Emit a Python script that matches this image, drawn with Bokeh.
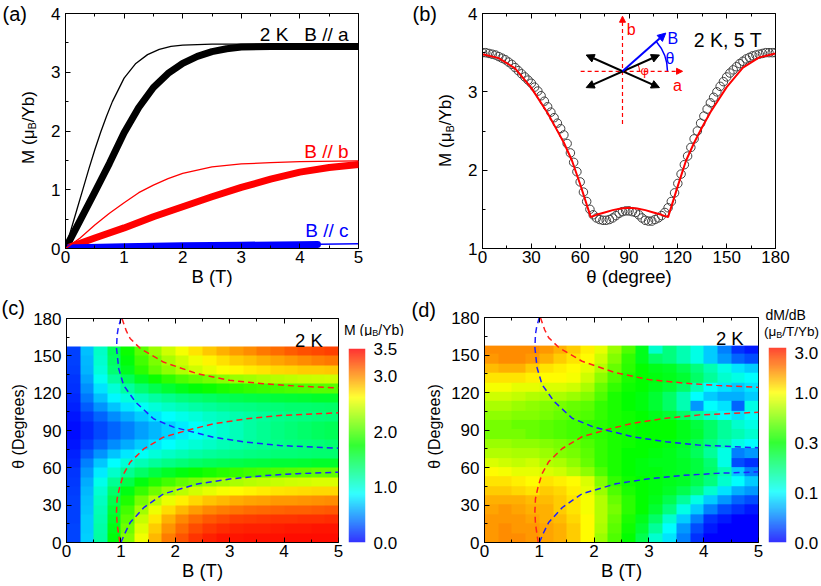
import numpy as np
from bokeh.plotting import figure
from bokeh.layouts import column, row
from bokeh.models import (Range1d, LinearAxis, FixedTicker, Arrow, NormalHead,
                          LinearColorMapper, NumeralTickFormatter)
from bokeh.core.properties import value
from bokeh.embed import file_html
from bokeh.resources import INLINE

FONT = "Liberation Sans"

# ---------------- (a) M vs B ----------------
a_thick_black_B = [0, 0.25, 0.5, 0.75, 1.0, 1.25, 1.5, 1.75, 2.0, 2.25, 2.5, 2.75, 3.0, 3.5, 4.0, 4.5, 5.0]
a_thick_black_M = [0, 0.48, 0.96, 1.45, 1.97, 2.40, 2.74, 2.98, 3.15, 3.27, 3.35, 3.40, 3.43, 3.44, 3.44, 3.44, 3.44]
a_thin_black_B = [0, 0.1, 0.2, 0.3, 0.4, 0.5, 0.6, 0.7, 0.8, 1.0, 1.2, 1.4, 1.6, 1.8, 2.0, 2.5, 3.0, 4.0, 5.0]
a_thin_black_M = [0, 0.34, 0.68, 1.02, 1.36, 1.68, 1.98, 2.25, 2.50, 2.90, 3.15, 3.30, 3.39, 3.44, 3.46, 3.48, 3.48, 3.48, 3.48]
a_thick_red_B = [0, 0.5, 1.0, 1.5, 2.0, 2.5, 3.0, 3.5, 4.0, 4.5, 5.0]
a_thick_red_M = [0, 0.18, 0.35, 0.54, 0.71, 0.88, 1.04, 1.18, 1.30, 1.38, 1.43]
a_thin_red_B = [0, 0.25, 0.5, 0.75, 1.0, 1.25, 1.5, 1.75, 2.0, 2.5, 3.0, 3.5, 4.0, 5.0]
a_thin_red_M = [0, 0.18, 0.40, 0.60, 0.78, 0.95, 1.08, 1.19, 1.28, 1.39, 1.44, 1.46, 1.48, 1.49]
a_thick_blue_B = [0, 1.0, 2.0, 3.0, 4.0, 4.3]
a_thick_blue_M = [0.01, 0.03, 0.045, 0.055, 0.065, 0.07]
a_thin_blue_B = [0, 1.0, 2.0, 3.0, 4.0, 5.0]
a_thin_blue_M = [0, 0.03, 0.05, 0.06, 0.07, 0.08]

# ---------------- (b) M vs theta at 2 K, 5 T ----------------
b_theta_data = list(range(0, 181, 2))
b_M_data = [3.50, 3.50, 3.49, 3.48, 3.47, 3.45, 3.43, 3.41, 3.38, 3.35,
            3.31, 3.27, 3.23, 3.19, 3.15, 3.11, 3.06, 3.01, 2.95, 2.88,
            2.81, 2.74, 2.67, 2.60, 2.53, 2.45, 2.34, 2.22, 2.10, 1.98,
            1.85, 1.72, 1.60, 1.50, 1.43, 1.39, 1.37, 1.36, 1.36, 1.37,
            1.39, 1.42, 1.45, 1.47, 1.48, 1.48, 1.47, 1.46, 1.43, 1.39,
            1.36, 1.35, 1.35, 1.37, 1.39, 1.42, 1.46, 1.52, 1.60, 1.71,
            1.83, 1.95, 2.07, 2.18, 2.29, 2.40, 2.50, 2.60, 2.69, 2.78,
            2.86, 2.93, 3.00, 3.07, 3.13, 3.19, 3.24, 3.28, 3.32, 3.36,
            3.39, 3.42, 3.44, 3.46, 3.47, 3.48, 3.49, 3.50, 3.50, 3.50,
            3.50]
b_theta_model = [0, 10, 20, 30, 40, 45, 50, 55, 60, 66.5, 70, 75, 80, 85, 90, 95, 100, 105, 110,
                 114, 120, 125, 130, 135, 140, 150, 160, 170, 180]
b_M_model = [3.48, 3.43, 3.30, 3.05, 2.73, 2.54, 2.35, 2.12, 1.82, 1.40, 1.43, 1.46, 1.49, 1.51, 1.52,
             1.51, 1.49, 1.46, 1.43, 1.40, 1.80, 2.12, 2.35, 2.55, 2.74, 3.06, 3.31, 3.44, 3.49]

# inset schematic (in panel-b data units)
inset_center = (86.0, 3.262)
inset_b_axis = ([86.0, 86.0], [2.59, 3.965])
inset_a_axis = ([60.3, 122.9], [3.262, 3.262])
inset_moment1 = ([63.7, 108.7], [3.47, 3.054])
inset_moment2 = ([63.7, 108.7], [3.054, 3.47])
inset_field = ([86.0, 112.6], [3.262, 3.75])

# ---------------- (c), (d) maps: cell centres ----------------
map_B = [0.125 + 0.25 * i for i in range(20)]
map_theta = [3.75 + 7.5 * i for i in range(21)]
M_map = [
    [0.24, 0.72, 1.20, 1.71, 2.19, 2.58, 2.87, 3.07, 3.21, 3.31, 3.38, 3.42, 3.43, 3.44, 3.44, 3.44, 3.45, 3.45, 3.45, 3.45],
    [0.24, 0.71, 1.18, 1.67, 2.13, 2.51, 2.79, 2.99, 3.13, 3.23, 3.30, 3.34, 3.37, 3.38, 3.39, 3.40, 3.41, 3.41, 3.42, 3.42],
    [0.23, 0.70, 1.16, 1.62, 2.06, 2.43, 2.70, 2.89, 3.03, 3.13, 3.19, 3.24, 3.27, 3.29, 3.30, 3.31, 3.32, 3.33, 3.33, 3.34],
    [0.23, 0.68, 1.13, 1.56, 1.97, 2.31, 2.56, 2.74, 2.87, 2.96, 3.03, 3.07, 3.10, 3.12, 3.14, 3.15, 3.16, 3.17, 3.18, 3.19],
    [0.22, 0.66, 1.09, 1.49, 1.85, 2.15, 2.38, 2.55, 2.67, 2.76, 2.83, 2.87, 2.91, 2.93, 2.95, 2.97, 2.98, 2.99, 3.00, 3.01],
    [0.21, 0.63, 1.03, 1.39, 1.69, 1.93, 2.12, 2.27, 2.38, 2.47, 2.54, 2.59, 2.63, 2.66, 2.69, 2.71, 2.73, 2.74, 2.75, 2.76],
    [0.20, 0.59, 0.95, 1.25, 1.50, 1.70, 1.86, 1.98, 2.08, 2.16, 2.23, 2.29, 2.33, 2.37, 2.40, 2.43, 2.45, 2.47, 2.49, 2.50],
    [0.18, 0.52, 0.82, 1.06, 1.25, 1.40, 1.52, 1.62, 1.70, 1.77, 1.83, 1.88, 1.92, 1.96, 1.99, 2.02, 2.04, 2.06, 2.08, 2.09],
    [0.15, 0.44, 0.69, 0.88, 1.02, 1.13, 1.22, 1.29, 1.35, 1.40, 1.44, 1.47, 1.50, 1.52, 1.54, 1.56, 1.57, 1.58, 1.60, 1.61],
    [0.11, 0.32, 0.51, 0.67, 0.80, 0.91, 1.00, 1.07, 1.13, 1.18, 1.22, 1.25, 1.28, 1.30, 1.32, 1.34, 1.35, 1.36, 1.37, 1.38],
    [0.07, 0.21, 0.35, 0.48, 0.60, 0.71, 0.80, 0.88, 0.96, 1.02, 1.08, 1.13, 1.17, 1.21, 1.25, 1.28, 1.31, 1.33, 1.35, 1.37],
    [0.05, 0.15, 0.25, 0.35, 0.45, 0.55, 0.64, 0.73, 0.82, 0.90, 0.98, 1.05, 1.12, 1.19, 1.25, 1.30, 1.35, 1.39, 1.43, 1.46],
    [0.05, 0.15, 0.25, 0.35, 0.45, 0.55, 0.64, 0.73, 0.82, 0.90, 0.98, 1.05, 1.12, 1.19, 1.25, 1.30, 1.35, 1.39, 1.43, 1.46],
    [0.07, 0.21, 0.35, 0.48, 0.60, 0.71, 0.80, 0.88, 0.95, 1.01, 1.07, 1.12, 1.16, 1.20, 1.23, 1.26, 1.29, 1.31, 1.33, 1.35],
    [0.11, 0.32, 0.51, 0.67, 0.80, 0.91, 1.00, 1.07, 1.13, 1.18, 1.22, 1.26, 1.29, 1.31, 1.33, 1.35, 1.37, 1.38, 1.39, 1.40],
    [0.14, 0.42, 0.66, 0.85, 0.99, 1.10, 1.19, 1.27, 1.33, 1.38, 1.42, 1.46, 1.49, 1.51, 1.53, 1.55, 1.57, 1.58, 1.60, 1.61],
    [0.17, 0.50, 0.79, 1.02, 1.21, 1.36, 1.48, 1.58, 1.66, 1.73, 1.79, 1.84, 1.88, 1.92, 1.95, 1.98, 2.00, 2.02, 2.04, 2.05],
    [0.19, 0.57, 0.92, 1.21, 1.45, 1.64, 1.79, 1.91, 2.01, 2.09, 2.16, 2.22, 2.27, 2.31, 2.34, 2.37, 2.40, 2.42, 2.44, 2.46],
    [0.21, 0.62, 1.01, 1.36, 1.65, 1.89, 2.08, 2.23, 2.36, 2.46, 2.54, 2.60, 2.65, 2.69, 2.72, 2.75, 2.77, 2.79, 2.80, 2.81],
    [0.22, 0.64, 1.05, 1.41, 1.72, 1.97, 2.17, 2.33, 2.46, 2.57, 2.66, 2.73, 2.79, 2.84, 2.89, 2.93, 2.97, 3.01, 3.05, 3.08],
    [0.22, 0.66, 1.08, 1.46, 1.79, 2.06, 2.28, 2.45, 2.59, 2.71, 2.81, 2.89, 2.96, 3.02, 3.08, 3.13, 3.18, 3.22, 3.25, 3.28],
]
dMdB_map = [
    [2.00, 2.13, 2.13, 2.00, 1.88, 1.75, 1.50, 1.00, 0.72, 0.51, 0.30, 0.24, 0.14, 0.09, 0.05, 0.02, 0.00, 0.00, 0.00, 0.00],
    [2.00, 2.13, 2.00, 2.00, 1.88, 1.75, 1.50, 1.00, 0.76, 0.55, 0.34, 0.26, 0.18, 0.10, 0.06, 0.03, 0.01, 0.00, 0.00, 0.00],
    [2.00, 2.00, 2.00, 1.88, 1.75, 1.63, 1.38, 1.00, 0.79, 0.58, 0.37, 0.28, 0.22, 0.14, 0.08, 0.05, 0.02, 0.01, 0.00, 0.00],
    [1.88, 2.00, 1.88, 1.75, 1.75, 1.50, 1.25, 0.97, 0.79, 0.62, 0.41, 0.30, 0.26, 0.20, 0.12, 0.08, 0.05, 0.03, 0.02, 0.01],
    [1.75, 1.75, 1.75, 1.63, 1.63, 1.50, 1.25, 0.97, 0.79, 0.58, 0.41, 0.30, 0.28, 0.24, 0.18, 0.12, 0.08, 0.06, 0.04, 0.03],
    [1.50, 1.50, 1.38, 1.25, 1.50, 1.38, 1.13, 0.93, 0.72, 0.51, 0.37, 0.30, 0.29, 0.27, 0.24, 0.20, 0.14, 0.09, 0.07, 0.06],
    [1.25, 1.25, 1.13, 1.00, 1.25, 1.13, 1.00, 0.90, 0.65, 0.44, 0.34, 0.30, 0.29, 0.28, 0.27, 0.24, 0.20, 0.14, 0.10, 0.08],
    [1.00, 0.97, 0.93, 0.93, 0.90, 0.86, 0.79, 0.69, 0.51, 0.37, 0.30, 0.29, 0.29, 0.28, 0.27, 0.25, 0.22, 0.16, 0.08, 0.05],
    [0.90, 0.86, 0.83, 0.86, 0.79, 0.76, 0.69, 0.58, 0.44, 0.37, 0.30, 0.29, 0.28, 0.28, 0.27, 0.25, 0.21, 0.12, 0.03, 0.02],
    [0.79, 0.79, 0.76, 0.76, 0.72, 0.65, 0.62, 0.55, 0.44, 0.37, 0.30, 0.30, 0.29, 0.28, 0.26, 0.23, 0.18, 0.12, 0.05, 0.06],
    [0.72, 0.72, 0.69, 0.69, 0.65, 0.62, 0.58, 0.51, 0.44, 0.37, 0.34, 0.30, 0.30, 0.29, 0.27, 0.24, 0.20, 0.16, 0.12, 0.10],
    [0.62, 0.62, 0.62, 0.58, 0.55, 0.51, 0.48, 0.44, 0.41, 0.37, 0.34, 0.30, 0.30, 0.30, 0.28, 0.26, 0.22, 0.18, 0.16, 0.14],
    [0.62, 0.62, 0.58, 0.58, 0.55, 0.51, 0.48, 0.44, 0.41, 0.37, 0.34, 0.30, 0.30, 0.30, 0.28, 0.25, 0.22, 0.18, 0.14, 0.12],
    [0.69, 0.69, 0.65, 0.65, 0.62, 0.58, 0.55, 0.51, 0.44, 0.37, 0.34, 0.30, 0.28, 0.26, 0.22, 0.18, 0.14, 0.10, 0.09, 0.10],
    [0.76, 0.76, 0.72, 0.69, 0.65, 0.62, 0.58, 0.55, 0.44, 0.37, 0.30, 0.29, 0.26, 0.22, 0.16, 0.06, 0.10, 0.09, 0.04, 0.12],
    [0.86, 0.86, 0.83, 0.79, 0.76, 0.76, 0.72, 0.65, 0.51, 0.37, 0.30, 0.29, 0.26, 0.22, 0.16, 0.10, 0.08, 0.07, 0.07, 0.08],
    [0.97, 0.97, 0.93, 0.93, 0.90, 0.90, 0.86, 0.76, 0.58, 0.44, 0.34, 0.30, 0.28, 0.26, 0.22, 0.16, 0.10, 0.09, 0.08, 0.09],
    [1.25, 1.25, 1.25, 1.13, 1.00, 1.00, 0.97, 0.86, 0.69, 0.51, 0.37, 0.30, 0.29, 0.28, 0.26, 0.22, 0.18, 0.14, 0.12, 0.10],
    [1.63, 1.75, 1.75, 1.50, 1.25, 1.13, 1.00, 0.93, 0.79, 0.58, 0.41, 0.30, 0.28, 0.27, 0.24, 0.20, 0.16, 0.12, 0.09, 0.08],
    [2.00, 2.13, 2.13, 2.00, 1.75, 1.50, 1.25, 1.00, 0.86, 0.65, 0.44, 0.28, 0.22, 0.20, 0.16, 0.12, 0.08, 0.06, 0.04, 0.03],
    [2.13, 2.13, 2.13, 2.13, 2.00, 1.75, 1.50, 1.13, 0.93, 0.72, 0.51, 0.28, 0.14, 0.20, 0.16, 0.12, 0.08, 0.05, 0.02, 0.01],
]
# phase boundaries (dashed)
red_dash1_B = [0.98, 0.93, 0.92, 0.93, 0.98, 1.05, 1.17, 1.42, 1.78, 2.21, 2.70, 3.31, 3.92, 5.0]
red_dash1_T = [0, 15, 25, 35, 45, 55, 64.5, 75.2, 84.6, 90, 95.4, 99.4, 102.1, 104.2]
red_dash2_B = [1.02, 1.10, 1.17, 1.36, 1.78, 2.40, 3.0, 3.62, 4.23, 5.0]
red_dash2_T = [180, 170, 163.9, 155.8, 145, 135.7, 130.3, 127.6, 125.7, 124.1]
blue_dash1_B = [1.0, 1.08, 1.17, 1.42, 1.78, 2.40, 3.0, 3.62, 4.23, 5.0]
blue_dash1_T = [0, 8, 16, 28, 39, 47, 51, 53.7, 55.3, 56.5]
blue_dash2_B = [1.0, 0.95, 0.93, 0.92, 0.96, 1.05, 1.27, 1.60, 1.97, 2.21, 2.70, 3.31, 3.92, 5.0]
blue_dash2_T = [180, 172, 166.6, 155.8, 139.7, 126.3, 112.8, 99.4, 92.7, 90, 84.6, 80.6, 77.9, 75.8]

cbar_c_ticks = [0, 1, 2, 3, 3.5]
cbar_d_values = [0.0, 0.1, 0.3, 1.0, 3.0]
cbar_d_pos = [0, 1, 2, 3, 3.8]

# ---------------- palette ----------------
stops = [(0, 0, 255), (0, 255, 255), (0, 255, 0), (255, 255, 0), (255, 0, 0)]
palette = []
for i in range(256):
    t = i / 255 * 4
    k = min(int(t), 3)
    f = t - k
    c = [round(stops[k][j] + (stops[k + 1][j] - stops[k][j]) * f) for j in range(3)]
    palette.append("#%02x%02x%02x" % tuple(c))

# ---------------- helpers ----------------
EM = {"M": 0.833, " ": 0.278, "(": 0.333, ")": 0.333, "μ": 0.576, "B": 0.667, "/": 0.278,
      "Y": 0.667, "b": 0.556, "T": 0.611, "d": 0.556}


def tw(s, size):
    return sum(EM.get(ch, 0.556) for ch in s) * size


def make_fig(w, h, xr, yr, bl, br, bt, bb, **kw):
    p = figure(width=w, height=h, x_range=Range1d(*xr), y_range=Range1d(*yr),
               output_backend="svg", toolbar_location=None, min_border=0,
               min_border_left=bl, min_border_right=br, min_border_top=bt, min_border_bottom=bb, **kw)
    p.frame_align = False
    p.grid.visible = False
    p.outline_line_color = "black"
    p.outline_line_width = 1
    p.background_fill_color = "white"
    p.border_fill_color = "white"
    return p


def style_axis(ax, ticks, minor, standoff=2):
    ax.ticker = FixedTicker(ticks=ticks, minor_ticks=minor)
    ax.major_tick_in = 5
    ax.major_tick_out = 0
    ax.minor_tick_in = 3
    ax.minor_tick_out = 0
    ax.axis_line_color = "black"
    ax.major_tick_line_color = "black"
    ax.minor_tick_line_color = "black"
    ax.major_label_text_font = FONT
    ax.major_label_text_font_size = "17px"
    ax.major_label_text_color = "black"
    ax.axis_label_text_font = FONT
    ax.axis_label_text_font_size = "18.5px"
    ax.axis_label_text_font_style = "normal"
    ax.axis_label_text_color = "black"
    ax.major_label_standoff = standoff
    ax.axis_label_standoff = 0


def add_top(p, ticks, minor):
    ax = LinearAxis()
    style_axis(ax, ticks, minor, standoff=0)
    ax.major_label_overrides = {t: "" for t in ticks}
    p.add_layout(ax, "above")


def strip(w, h):
    """Label-only panel: its frame fills the whole canvas, ranges are its pixels."""
    p = figure(width=w, height=h, x_range=Range1d(0, w), y_range=Range1d(0, h),
               output_backend="svg", toolbar_location=None, x_axis_location=None,
               y_axis_location=None, min_border=0, min_border_left=0, min_border_right=0,
               min_border_top=0, min_border_bottom=0)
    p.frame_align = False
    p.grid.visible = False
    p.outline_line_color = None
    p.background_fill_color = "white"
    p.border_fill_color = "white"
    return p


def text(p, x, y, s, color="black", size="18.5px", align="right", baseline="alphabetic", angle=0):
    p.text(x=[x], y=[y], text=[s], text_align=align, text_baseline=baseline, angle=angle,
           text_font=value(FONT), text_font_size=size, text_color=color)


def sub_text(p, x, y, parts, size, sub_size, drop, vertical=False):
    """Text with a subscript, laid out piece by piece (strip pixel units)."""
    off = 0.0
    for txt, is_sub in parts:
        fs = sub_size if is_sub else size
        d = drop if is_sub else 0.0
        if vertical:
            text(p, x + d, y + off, txt, size="%gpx" % fs, align="left", baseline="middle",
                 angle=np.pi / 2)
        else:
            text(p, x + off, y - d, txt, size="%gpx" % fs, align="left")
        off += tw(txt, fs)


MU_PARTS = [("M (μ", False), ("B", True), ("/Yb)", False)]

# ---------------- panel (a) ----------------
la = strip(40, 290)
text(la, 2, 288, "(a)", size="20px", align="left", baseline="top")
sub_text(la, 27.5, 126.6, MU_PARTS, 17, 11, 4.4, vertical=True)

pa = make_fig(370, 290, (0, 5), (0, 4), 25, 52, 13, 42)
style_axis(pa.xaxis[0], [0, 1, 2, 3, 4, 5], [0.5, 1.5, 2.5, 3.5, 4.5])
style_axis(pa.yaxis[0], [0, 1, 2, 3, 4], [0.5, 1.5, 2.5, 3.5], standoff=5)
pa.xaxis.axis_label = "B (T)"
add_top(pa, [0, 1, 2, 3, 4, 5], [0.5, 1.5, 2.5, 3.5, 4.5])
pa.line(a_thick_black_B, a_thick_black_M, line_color="black", line_width=7, line_cap="round", line_join="round")
pa.line(a_thick_red_B, a_thick_red_M, line_color="#ff0000", line_width=7, line_cap="round", line_join="round")
pa.line(a_thin_blue_B, a_thin_blue_M, line_color="#0000ff", line_width=1.5)
pa.line(a_thick_blue_B, a_thick_blue_M, line_color="#0000ff", line_width=7, line_cap="round", line_join="round")
pa.line(a_thin_black_B, a_thin_black_M, line_color="black", line_width=1.3)
pa.line(a_thin_red_B, a_thin_red_M, line_color="#ff0000", line_width=1.3)
text(pa, 4.83, 3.64, "2 K\u00a0\u00a0\u00a0B // a", size="19px")
text(pa, 4.83, 1.65, "B // b", color="#ff0000", size="19px")
text(pa, 4.83, 0.30, "B // c", color="#0000ff", size="19px")

# ---------------- panel (b) ----------------
lb = strip(45, 290)
text(lb, 2, 288, "(b)", size="20px", align="left", baseline="top")
sub_text(lb, 35, 123.6, MU_PARTS, 17, 11, 4.4, vertical=True)

pb = make_fig(366, 290, (0, 180), (1, 4), 27, 46, 13, 42)
style_axis(pb.xaxis[0], [0, 30, 60, 90, 120, 150, 180], [15, 45, 75, 105, 135, 165])
style_axis(pb.yaxis[0], [1, 2, 3, 4], [1.5, 2.5, 3.5], standoff=5)
pb.xaxis.axis_label = "θ (degree)"
add_top(pb, [0, 30, 60, 90, 120, 150, 180], [15, 45, 75, 105, 135, 165])
pb.scatter(b_theta_data, b_M_data, marker="circle", size=8.5, fill_color=None,
           line_color="#404040", line_width=1)
pb.line(b_theta_model, b_M_model, line_color="#ff0000", line_width=2)
# inset
pb.add_layout(Arrow(end=NormalHead(size=6, fill_color="#ff0000", line_color="#ff0000"),
                    x_start=inset_b_axis[0][0], y_start=inset_b_axis[1][0],
                    x_end=inset_b_axis[0][1], y_end=inset_b_axis[1][1],
                    line_color="#ff0000", line_width=1.2, line_dash="4 3"))
pb.add_layout(Arrow(end=NormalHead(size=6, fill_color="#ff0000", line_color="#ff0000"),
                    x_start=inset_a_axis[0][0], y_start=inset_a_axis[1][0],
                    x_end=inset_a_axis[0][1], y_end=inset_a_axis[1][1],
                    line_color="#ff0000", line_width=1.2, line_dash="4 3"))
for mx, my in (inset_moment1, inset_moment2):
    pb.add_layout(Arrow(start=NormalHead(size=8, fill_color="black", line_color="black"),
                        end=NormalHead(size=8, fill_color="black", line_color="black"),
                        x_start=mx[0], y_start=my[0], x_end=mx[1], y_end=my[1],
                        line_color="black", line_width=2))
pb.add_layout(Arrow(end=NormalHead(size=8, fill_color="#0000ff", line_color="#0000ff"),
                    x_start=inset_field[0][0], y_start=inset_field[1][0],
                    x_end=inset_field[0][1], y_end=inset_field[1][1],
                    line_color="#0000ff", line_width=2))
pb.arc(x=[inset_center[0]], y=[inset_center[1]], radius=45, radius_units="screen",
       start_angle=0, end_angle=np.radians(41), line_color="#0000ff", line_width=1.5)
pb.arc(x=[inset_center[0]], y=[inset_center[1]], radius=17, radius_units="screen",
       start_angle=0, end_angle=np.radians(24), line_color="#ff0000", line_width=1)
text(pb, 91.3, 3.80, "b", color="#ff0000", size="16px", align="center")
text(pb, 119.7, 3.08, "a", color="#ff0000", size="16px", align="center")
text(pb, 117.0, 3.68, "B", color="#0000ff", size="16px", align="center")
text(pb, 115.1, 3.43, "θ", color="#0000ff", size="16px", align="center")
text(pb, 99.7, 3.27, "φ", color="#ff0000", size="13px", align="center")
text(pb, 171.7, 3.66, "2 K, 5 T", size="19.5px")


# ---------------- panels (c), (d) ----------------
def heat_fig(w, bl, br, bt):
    p = make_fig(w, 296, (0, 5), (0, 180), bl, br, bt, 44)
    style_axis(p.xaxis[0], [0, 1, 2, 3, 4, 5], [0.5, 1.5, 2.5, 3.5, 4.5])
    style_axis(p.yaxis[0], [0, 30, 60, 90, 120, 150, 180], [15, 45, 75, 105, 135, 165], standoff=5)
    p.xaxis.axis_label = "B (T)"
    add_top(p, [0, 1, 2, 3, 4, 5], [0.5, 1.5, 2.5, 3.5, 4.5])
    return p


dB = map_B[1] - map_B[0]
dT = map_theta[1] - map_theta[0]
img_x = map_B[0] - dB / 2
img_y = map_theta[0] - dT / 2
img_dw = map_B[-1] - map_B[0] + dB
img_dh = map_theta[-1] - map_theta[0] + dT


def add_dashes(p):
    p.line(red_dash1_B, red_dash1_T, line_color="#ff2020", line_width=1.5, line_dash="6 4")
    p.line(red_dash2_B, red_dash2_T, line_color="#ff2020", line_width=1.5, line_dash="6 4")
    p.line(blue_dash1_B, blue_dash1_T, line_color="#2020ff", line_width=1.5, line_dash="6 4")
    p.line(blue_dash2_B, blue_dash2_T, line_color="#2020ff", line_width=1.5, line_dash="6 4")


lc = strip(30, 296)
text(lc, 1, 290, "(c)", size="20px", align="left", baseline="top")
text(lc, 17.5, 160, "θ (Degrees)", size="16px", align="center", baseline="middle", angle=np.pi / 2)

mapper_c = LinearColorMapper(palette=palette, low=0, high=3.5)
pc = heat_fig(313, 35, 5, 28)
pc.image(image=[np.array(M_map)], x=img_x, y=img_y, dw=img_dw, dh=img_dh, color_mapper=mapper_c)
add_dashes(pc)
text(pc, 4.71, 162, "2 K")

ld = strip(38, 296)
text(ld, 1, 288, "(d)", size="20px", align="left", baseline="top")
text(ld, 24, 160, "θ (Degrees)", size="16px", align="center", baseline="middle", angle=np.pi / 2)

mapper_d = LinearColorMapper(palette=palette, low=0, high=4)
d_idx = np.interp(np.array(dMdB_map), cbar_d_values, cbar_d_pos)
pd_ = heat_fig(315, 36, 5, 27)
pd_.image(image=[d_idx], x=img_x, y=img_y, dw=img_dw, dh=img_dh, color_mapper=mapper_d)
add_dashes(pd_)
text(pd_, 4.73, 163.6, "2 K")


# ---------------- colorbars ----------------
def cbar_fig(w, h, bl, br, bt, top):
    p = figure(width=w, height=h, x_range=Range1d(0, 1), y_range=Range1d(0, top),
               output_backend="svg", toolbar_location=None, x_axis_location=None,
               y_axis_location="right", min_border=0, min_border_left=bl, min_border_right=br,
               min_border_top=bt, min_border_bottom=44)
    p.frame_align = False
    p.grid.visible = False
    p.outline_line_color = None
    ax = p.yaxis[0]
    ax.axis_line_color = None
    ax.major_tick_line_color = None
    ax.minor_tick_line_color = None
    ax.major_label_text_font = FONT
    ax.major_label_text_font_size = "17px"
    ax.major_label_text_color = "black"
    ax.major_label_standoff = 2
    return p


ct = strip(67, 46)
sub_text(ct, 0.5, 7, MU_PARTS, 14, 9, 3)
cbc = cbar_fig(67, 250, 5, 45, 12, 3.5)
cbc.image(image=[np.linspace(0, 3.5, 256).reshape(-1, 1)], x=0, y=0, dw=1, dh=3.5,
          color_mapper=mapper_c, global_alpha=0.8)
cbc.yaxis.ticker = FixedTicker(ticks=cbar_c_ticks)
cbc.yaxis.formatter = NumeralTickFormatter(format="0.0")

dt = strip(58, 50)
text(dt, 2, 26, "dM/dB", size="14px", align="left")
sub_text(dt, 0.5, 9, [("(μ", False), ("B", True), ("/T/Yb)", False)], 13.5, 9, 3)
cbd = cbar_fig(58, 246, 5, 31, 7, 3.9)
cbd.image(image=[np.linspace(0, 3.9, 256).reshape(-1, 1)], x=0, y=0, dw=1, dh=3.9,
          color_mapper=mapper_d, global_alpha=0.8)
cbd.yaxis.ticker = FixedTicker(ticks=cbar_d_pos)
cbd.yaxis.major_label_overrides = {p_: "%.1f" % v for p_, v in zip(cbar_d_pos, cbar_d_values)}

layout = column(row(la, pa, lb, pb),
                row(lc, pc, column(ct, cbc), ld, pd_, column(dt, cbd)))
open("out.html", "w").write(file_html(layout, INLINE, "magnetization"))
